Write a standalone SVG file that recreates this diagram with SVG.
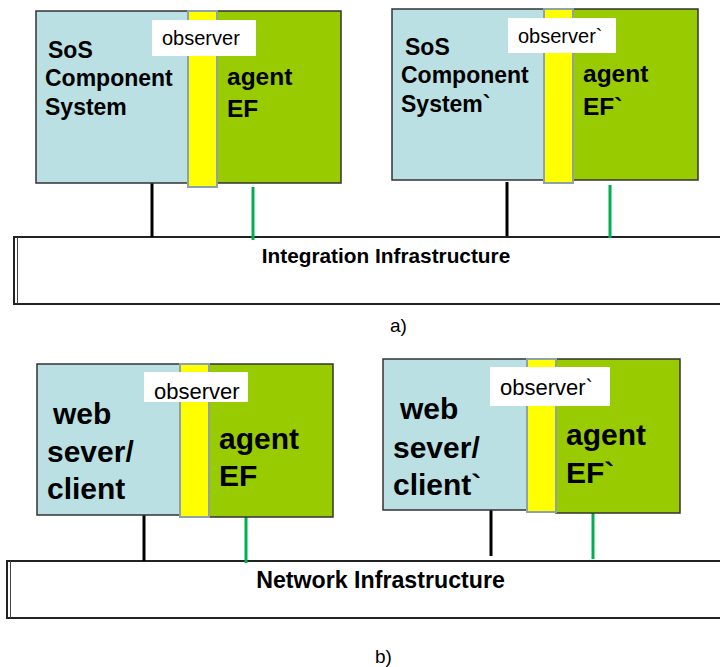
<svg xmlns="http://www.w3.org/2000/svg" width="720" height="667" viewBox="0 0 720 667">
<style>
.sys{fill:#bae0e3;stroke:#333;stroke-width:1.5}
.agt{fill:#99cc00;stroke:#333;stroke-width:1.5}
.obs{fill:#ffff00;stroke:#8da3a8;stroke-width:2}
.lbl{fill:#fff}
.infra{fill:#fff;stroke:#222;stroke-width:2}
.t{font-family:"Liberation Sans",Arial,sans-serif;fill:#000}
.b{font-weight:bold}
.k{stroke:#000;stroke-width:3}
.g{stroke:#00b050;stroke-width:3}
</style>
<rect width="720" height="667" fill="#fff"/>
<g id="infra-a">
<rect class="infra" x="14" y="237" width="712" height="67"/>
<line x1="17.5" y1="237" x2="17.5" y2="304" stroke="#444" stroke-width="1"/>
<text class="t b" x="386" y="263" font-size="20.8" text-anchor="middle">Integration Infrastructure</text>
</g>
<g id="infra-b">
<rect class="infra" x="7" y="561" width="719" height="57"/>
<line x1="10.5" y1="561" x2="10.5" y2="618" stroke="#444" stroke-width="1"/>
<text class="t b" x="380.5" y="588" font-size="23.2" text-anchor="middle">Network Infrastructure</text>
</g>
<g id="connectors">
<line class="k" x1="152" y1="183" x2="152" y2="237"/>
<line class="g" x1="253" y1="187" x2="253" y2="240"/>
<line class="k" x1="507" y1="182" x2="507" y2="236"/>
<line class="g" x1="610" y1="185" x2="610" y2="238"/>
<line class="k" x1="144" y1="515" x2="144" y2="561"/>
<line class="g" x1="246" y1="517" x2="246" y2="563"/>
<line class="k" x1="491" y1="510" x2="491" y2="556"/>
<line class="g" x1="593" y1="513" x2="593" y2="559"/>
</g>
<g id="node-a1">
<rect class="sys" x="36" y="11" width="152" height="172"/>
<rect class="agt" x="217" y="11" width="124" height="172"/>
<rect class="obs" x="188" y="11" width="29" height="176"/>
<rect class="lbl" x="152" y="20" width="104" height="36"/>
<text class="t" x="162" y="45" font-size="20">observer</text>
<text class="t b" font-size="23"><tspan x="48" y="58">SoS</tspan><tspan x="45" y="86">Component</tspan><tspan x="45" y="115">System</tspan></text>
<text class="t b" font-size="24.5"><tspan x="227" y="85">agent</tspan><tspan x="227" y="117">EF</tspan></text>
</g>
<g id="node-a2">
<rect class="sys" x="392" y="9" width="152" height="171"/>
<rect class="agt" x="573" y="9" width="125" height="171"/>
<rect class="obs" x="544" y="9" width="29" height="174"/>
<rect class="lbl" x="508" y="18" width="108" height="35"/>
<text class="t" x="518" y="43" font-size="20">observer`</text>
<text class="t b" font-size="23"><tspan x="405" y="55">SoS</tspan><tspan x="401" y="83">Component</tspan><tspan x="401" y="112">System`</tspan></text>
<text class="t b" font-size="24.5"><tspan x="583" y="82">agent</tspan><tspan x="583" y="115">EF`</tspan></text>
</g>
<text class="t" x="390" y="332" font-size="19">a)</text>
<g id="node-b1">
<rect class="sys" x="37" y="364" width="143" height="151"/>
<rect class="agt" x="209" y="364" width="124" height="153"/>
<rect class="obs" x="180" y="364" width="29" height="153"/>
<rect class="lbl" x="144" y="372" width="104" height="30"/>
<text class="t" x="154" y="399" font-size="22">observer</text>
<text class="t b" font-size="30"><tspan x="53" y="424">web</tspan><tspan x="47" y="462">sever/</tspan><tspan x="47" y="499">client</tspan></text>
<text class="t b" font-size="30"><tspan x="219" y="449">agent</tspan><tspan x="219" y="486">EF</tspan></text>
</g>
<g id="node-b2">
<rect class="sys" x="383" y="359" width="144" height="151"/>
<rect class="agt" x="556" y="359" width="124" height="154"/>
<rect class="obs" x="527" y="359" width="29" height="153"/>
<rect class="lbl" x="490" y="367" width="120" height="39"/>
<text class="t" x="500" y="395" font-size="22">observer`</text>
<text class="t b" font-size="30"><tspan x="400" y="419">web</tspan><tspan x="393" y="458">sever/</tspan><tspan x="393" y="495">client`</tspan></text>
<text class="t b" font-size="30"><tspan x="566" y="445">agent</tspan><tspan x="566" y="483">EF`</tspan></text>
</g>
<text class="t" x="375" y="663" font-size="19">b)</text>
</svg>
